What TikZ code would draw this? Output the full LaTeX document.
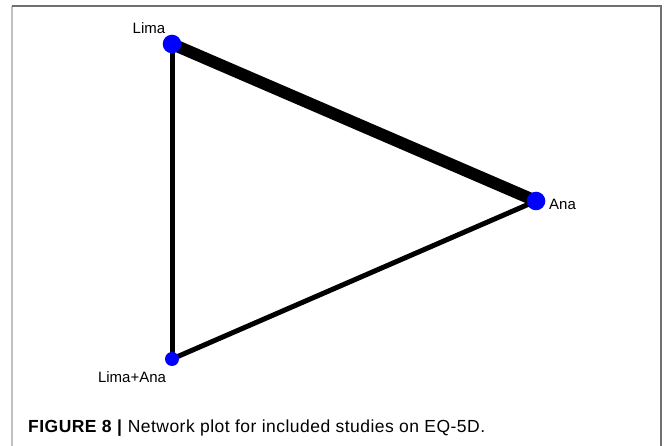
\documentclass[tikz,border=0pt]{standalone}
\usepackage{fontspec}
\setmainfont{Liberation Sans}
\usetikzlibrary{backgrounds}
\definecolor{framedark}{HTML}{707070}
\definecolor{framelight}{HTML}{C0C0C0}
\tikzset{
  treat/.style={circle, fill=blue, inner sep=0pt, minimum size=#1},
  treatlabel/.style={inner sep=0pt, font=\fontsize{15}{18}\selectfont},
  link/.style={draw=black, line width=#1},
}
\begin{document}
\begin{tikzpicture}[x=1pt, y=-1pt]
  \useasboundingbox (0,0) rectangle (664,446);
  % outer frame (open at the bottom)
  \draw[framelight, line width=1.5pt] (12,6) -- (12,446);
  \draw[framedark, line width=1.5pt] (12,6) -- (661,6) -- (661,446);

  % treatments
  \node[treat=18.6pt] (lima) at (172,44) {};
  \node[treat=18.6pt] (ana) at (536,201) {};
  \node[treat=14pt] (combo) at (172,359) {};

  \node[treatlabel, anchor=base] (limalbl) at (149,34) {Lima};
  \node[treatlabel, anchor=base west] (analbl) at (549,209.5) {Ana};
  \node[treatlabel, anchor=base] (combolbl) at (132,382) {Lima+Ana};

  % comparisons, widths by number of studies
  \begin{scope}[on background layer]
    \draw[link=12pt] (lima.center) -- (ana.center);
    \draw[link=5pt] (lima.center) -- (combo.center);
    \draw[link=5pt] (ana.center) -- (combo.center);
  \end{scope}

  % caption
  \node[inner sep=0pt, anchor=base west,
        font=\fontsize{17.5}{20}\selectfont\addfontfeature{LetterSpace=2.7}] (caption) at (28,432)
    {\textbf{FIGURE 8 |} Network plot for included studies on EQ-5D.};
\end{tikzpicture}
\end{document}
